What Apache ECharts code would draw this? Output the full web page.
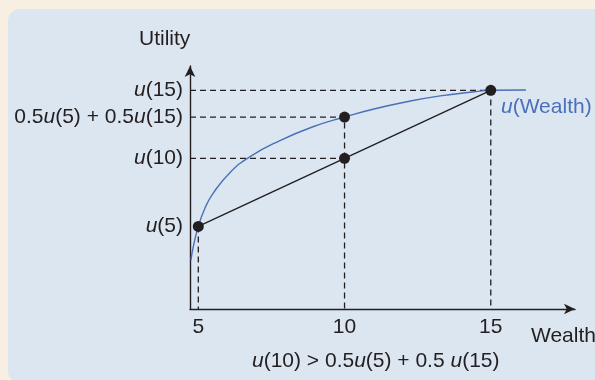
<!DOCTYPE html>
<html>
<head>
<meta charset="utf-8">
<script src="https://cdn.jsdelivr.net/npm/echarts@6/dist/echarts.min.js"></script>
<style>
html,body{margin:0;padding:0;background:#f8eee2;}
#c{width:595px;height:380px;}
</style>
</head>
<body>
<div id="c"></div>
<script>
// ---- data ----
const wealthTicks = [5, 10, 15];
const utilityLevels = [34, 62, 79, 90];
const utilityLabels = ['{i|u}(5)', '{i|u}(10)', '0.5{i|u}(5) + 0.5{i|u}(15)', '{i|u}(15)'];
const curveWealth = [4.75, 4.82, 5, 5.23, 5.5, 6.08, 6.77, 7.79, 8.92, 10, 10.97, 12.13, 13.27, 14.39, 15, 16.2];
const curveUtility = [20.2, 25.1, 34, 41.6, 47.5, 56.1, 62.7, 69.3, 75.0, 79, 82.2, 85.3, 87.7, 89.3, 90, 90.1];
const chordWealth = [5, 15];
const chordUtility = [34, 90];
const dotWealth = [5, 10, 10, 15];
const dotUtility = [34, 79, 62, 90];
const xMin = 4.716, xMax = 17.88, yMin = 0, yMax = 100;

const ink = '#231f20';
const blue = '#4a70b8';
const fontFam = '"Liberation Sans", Arial, Helvetica, sans-serif';
const dash = {color: ink, width: 1.3, type: [6, 4]};

function zip(a, b) { return a.map((v, i) => [v, b[i]]); }

const guides = [
  [[xMin, chordUtility[1]], [chordWealth[1], chordUtility[1]], [chordWealth[1], yMin]],
  [[xMin, dotUtility[1]], [dotWealth[1], dotUtility[1]], [dotWealth[1], yMin]],
  [[xMin, dotUtility[2]], [dotWealth[2], dotUtility[2]]],
  [[dotWealth[0], dotUtility[0]], [dotWealth[0], yMin]]
];

const rich = {i: {fontStyle: 'italic', fontSize: 21, fontFamily: fontFam, color: ink}};
const richBlue = {i: {fontStyle: 'italic', fontSize: 21, fontFamily: fontFam, color: blue}};

const chart = echarts.init(document.getElementById('c'), null, {renderer: 'canvas'});
const series = [];
guides.forEach(g => series.push({
  type: 'line', data: g, symbol: 'none', lineStyle: dash, silent: true, z: 1, animation: false
}));
series.push({
  type: 'line', data: zip(curveWealth, curveUtility), symbol: 'none', smooth: 0.5,
  lineStyle: {color: blue, width: 1.4}, z: 2, animation: false
});
series.push({
  type: 'line', data: zip(chordWealth, chordUtility), symbol: 'none',
  lineStyle: {color: ink, width: 1.4}, z: 3, animation: false
});
series.push({
  type: 'scatter', data: zip(dotWealth, dotUtility), symbolSize: 11,
  itemStyle: {color: ink, opacity: 1}, z: 4, animation: false
});

chart.setOption({
  backgroundColor: 'transparent',
  animation: false,
  graphic: [
    {type: 'rect', shape: {x: 8, y: 9, width: 600, height: 374, r: 12}, style: {fill: '#dce6f0'}, z: -10},
    {type: 'text', left: 139, top: 29, style: {text: 'Utility', font: '21px ' + fontFam, fill: ink}},
    {type: 'text', left: 531, top: 326, style: {text: 'Wealth', font: '21px ' + fontFam, fill: ink}},
    {type: 'text', left: 501, top: 97, style: {text: '{i|u}(Wealth)', rich: richBlue, font: '21px ' + fontFam, fill: blue}},
    {type: 'text', left: 252, top: 351, style: {text: '{i|u}(10) > 0.5{i|u}(5) + 0.5 {i|u}(15)', rich: rich, font: '21px ' + fontFam, fill: ink}}
  ],
  grid: {left: 190, top: 66, width: 385, height: 243},
  xAxis: {
    type: 'value', min: xMin, max: xMax,
    axisLine: {show: true, symbol: ['none', 'arrow'], symbolSize: [8, 11], lineStyle: {color: ink, width: 1.4}},
    axisTick: {show: false}, splitLine: {show: false},
    axisLabel: {customValues: wealthTicks, margin: 8, fontSize: 21, fontFamily: fontFam, color: ink}
  },
  yAxis: {
    type: 'value', min: yMin, max: yMax,
    axisLine: {show: true, symbol: ['none', 'arrow'], symbolSize: [8, 11], lineStyle: {color: ink, width: 1.4}},
    axisTick: {show: false}, splitLine: {show: false},
    axisLabel: {
      customValues: utilityLevels, margin: 7, fontSize: 21, fontFamily: fontFam, color: ink, rich: rich,
      formatter: v => utilityLabels[utilityLevels.indexOf(v)] || ''
    }
  },
  series: series
});
</script>
</body>
</html>
